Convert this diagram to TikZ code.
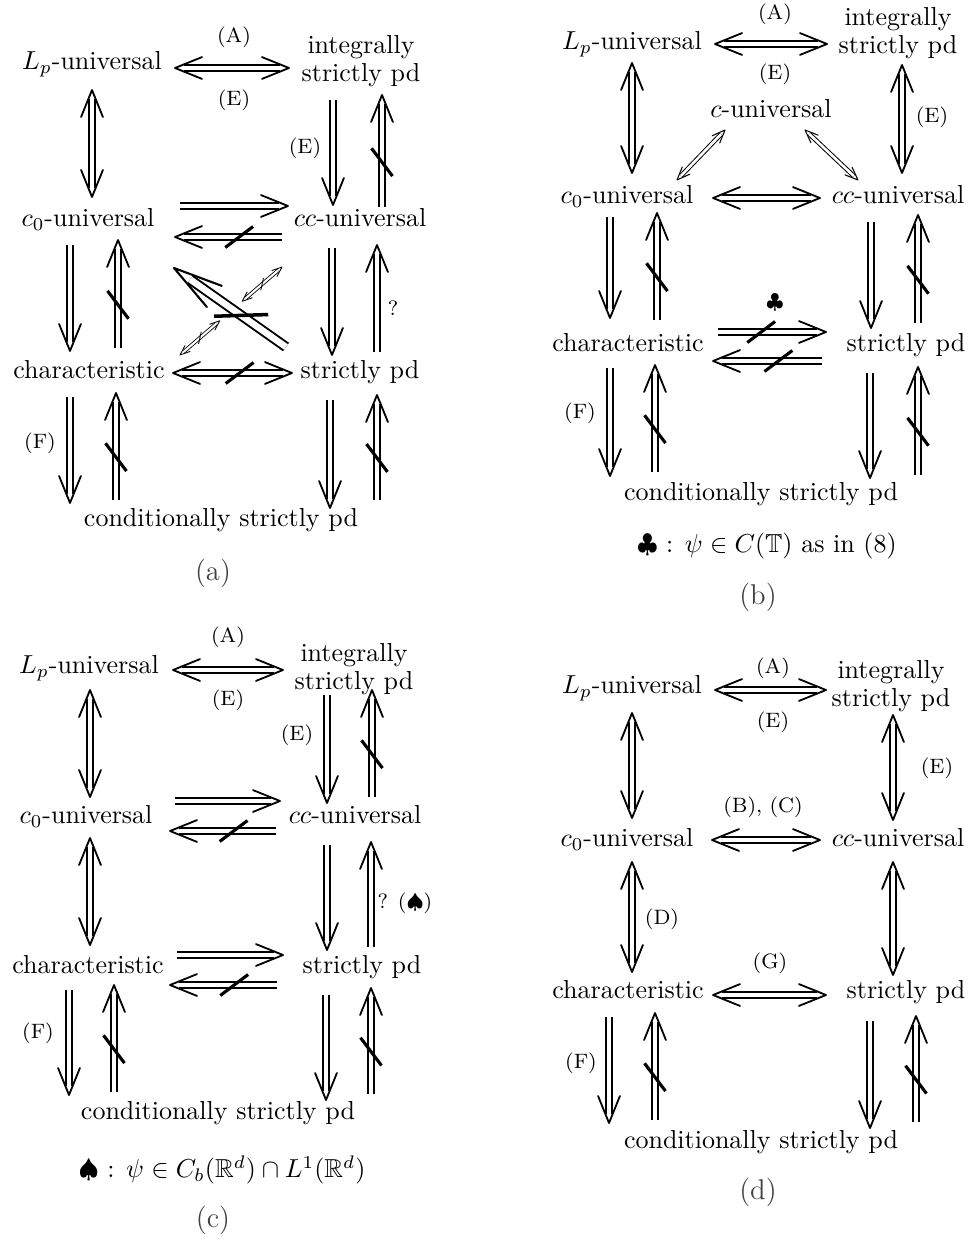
\documentclass[tikz,border=0pt]{standalone}
\usepackage{amssymb}
\usetikzlibrary{calc}
\newcommand\hsh{3.6pt}
\newcommand\slen{6.7pt}
\newcommand\hl{11.2pt}
\newcommand\ha{22}
\newcommand\hd[2]{\draw[headtip] ($(#1)!\hl!\ha:(#2)$) -- (#1) -- ($(#1)!\hl!-\ha:(#2)$);}
\newcommand\xRA[2]{%
  \coordinate (s) at #1; \coordinate (e) at #2;
  \draw[shaft, shorten >=\hsh] (s) -- (e);
  \hd{e}{s}}
\newcommand\xLRA[2]{%
  \coordinate (s) at #1; \coordinate (e) at #2;
  \draw[shaft, shorten >=\hsh, shorten <=\hsh] (s) -- (e);
  \hd{e}{s}\hd{s}{e}}
\newcommand\RA[4]{\xRA{($(#1.center)+(#2)$)}{($(#3.center)+(#4)$)}}
\newcommand\LRA[4]{\xLRA{($(#1.center)+(#2)$)}{($(#3.center)+(#4)$)}}
\newcommand\NOT[1][0.4]{%
  \coordinate (m) at ($(s)!#1!(e)$);
  \draw[slash] ($(m)!\slen!37:(e)$) -- ($(m)!\slen!217:(e)$);}
\tikzset{
  txt/.style={inner sep=0pt, text height=7pt, text depth=2pt},
  twoline/.style={inner sep=0pt, align=center},
  lab/.style={inner sep=0pt, font=\footnotesize},
  capt/.style={inner sep=0pt, font=\fontsize{11}{13}\selectfont, text=black!75},
  notetxt/.style={inner sep=0pt},
  shaft/.style={double, double distance=1.65pt, line width=0.65pt},
  headtip/.style={line width=0.7pt, line cap=round, line join=round},
  slash/.style={line width=1.2pt},
  thinarr/.style={shaft/.style={double, double distance=1pt, line width=0.38pt},
    headtip/.style={line width=0.4pt, line cap=round, line join=round},
    slash/.style={line width=0.38pt}},
  smallarr/.style={shaft/.style={double, double distance=0.8pt, line width=0.32pt},
    headtip/.style={line width=0.32pt, line cap=round, line join=round},
    slash/.style={line width=0.32pt}},
  bigarr/.style={shaft/.style={double, double distance=2.5pt, line width=0.75pt},
    headtip/.style={line width=0.8pt, line cap=round, line join=round},
    slash/.style={line width=1.35pt}},
}
\begin{document}
\begin{tikzpicture}[x=0.38462pt, y=-0.38462pt]
\useasboundingbox (0,0) rectangle (971,1241);
% ================= (a)
\node[txt] (aLp) at (92,63) {$L_p$-universal};
\node[twoline] (aInt) at (361,61) {integrally\\[-1.2pt]strictly pd};
\node[txt] (ac0) at (88,220) {$c_0$-universal};
\node[txt] (acc) at (360,220) {$cc$-universal};
\node[txt] (ach) at (89,372) {characteristic};
\node[txt] (asp) at (360,372) {strictly pd};
\node[txt] (acsp) at (221,520) {conditionally strictly pd};
\node[lab] (aA) at (234,37) {(A)};
\node[lab] (aE1) at (234,100) {(E)};
\node[lab] (aE2) at (305,148) {(E)};
\node[lab] (aQ) at (393,308) {?};
\node[lab] (aF) at (40,443) {(F)};
\node[capt] (acap) at (213,573) {(a)};
\LRA{aLp}{83,5}{aInt}{-72,7}
\LRA{aLp}{0,27}{ac0}{4,-23}
\RA{aInt}{-28,39}{acc}{-27,-15}
\RA{acc}{22,-13}{aInt}{21,34}\NOT
\RA{ac0}{92,-14}{acc}{-72,-14}
\RA{acc}{-78,17}{ac0}{87,17}\NOT
\RA{ac0}{-18,25}{ach}{-19,-21}
\RA{ach}{29,-24}{ac0}{30,20}\NOT
\RA{acc}{-28,28}{asp}{-28,-17}
\RA{asp}{17,-20}{acc}{17,25}
\LRA{ach}{84,1}{asp}{-68,1}\NOT[0.56]
\begin{scope}[bigarr]
\renewcommand\hsh{7.6pt}\renewcommand\slen{10.4pt}
\renewcommand\hl{19.6pt}\renewcommand\ha{14.7}
\RA{asp}{-74,-25}{ac0}{86,48}\NOT
\end{scope}
\begin{scope}[smallarr]
\renewcommand\hsh{1.8pt}\renewcommand\slen{2.4pt}
\renewcommand\hl{4.1pt}\renewcommand\ha{21.5}
\coordinate (p) at ($(ach.center)+(91,-17)$);
\coordinate (q) at ($(acc.center)+(-78,47)$);
\xLRA{(p)}{($(p)!0.39!(q)$)}\NOT[0.5]
\xLRA{($(p)!0.61!(q)$)}{(q)}\NOT[0.5]
\end{scope}
\RA{ach}{-19,25}{acsp}{-151,-17}
\RA{acsp}{-105,-20}{ach}{27,21}\NOT
\RA{asp}{-30,28}{acsp}{109,-12}
\RA{acsp}{156,-20}{asp}{17,23}\NOT
% ================= (b)
\node[txt] (bLp) at (632,43) {$L_p$-universal};
\node[twoline] (bInt) at (898,33) {integrally\\[-1.2pt]strictly pd};
\node[txt] (bc) at (771,111) {$c$-universal};
\node[txt] (bc0) at (627,197) {$c_0$-universal};
\node[txt] (bcc) at (898,197) {$cc$-universal};
\node[txt] (bch) at (628,345) {characteristic};
\node[txt] (bsp) at (906,345) {strictly pd};
\node[txt] (bcsp) at (761,494) {conditionally strictly pd};
\node[lab] (bA) at (775,14) {(A)};
\node[lab] (bE1) at (775,74) {(E)};
\node[lab] (bE2) at (932,117) {(E)};
\node[lab] (bclub) at (775,303) {$\clubsuit$};
\node[lab] (bF) at (580,413) {(F)};
\node[notetxt] (bnote) at (767,546) {$\clubsuit$ : $\psi\in C(\mathbb{T})$ as in (8)};
\node[capt] (bcap) at (758,597) {(b)};
\LRA{bLp}{83,1}{bInt}{-71,11}
\LRA{bLp}{0,20}{bc0}{5,-24}
\LRA{bInt}{4,32}{bcc}{4,-24}
\begin{scope}[thinarr]
\renewcommand\hsh{2.2pt}
\renewcommand\hl{5.4pt}\renewcommand\ha{21.8}
\LRA{bc}{-46,19}{bc0}{50,-17}
\LRA{bc}{34,19}{bcc}{-40,-17}
\end{scope}
\LRA{bc0}{86,1}{bcc}{-78,1}
\RA{bc0}{-17,20}{bch}{-18,-27}
\RA{bch}{29,-25}{bc0}{30,16}\NOT
\RA{bcc}{-27,25}{bsp}{-35,-17}
\RA{bsp}{12,-22}{bcc}{20,18}\NOT
\RA{bch}{90,-13}{bsp}{-80,-13}\NOT
\RA{bsp}{-84,16}{bch}{85,16}\NOT
\RA{bch}{-18,23}{bcsp}{-151,-18}
\RA{bcsp}{-106,-22}{bch}{27,20}\NOT
\RA{bsp}{-36,28}{bcsp}{109,-16}
\RA{bcsp}{157,-19}{bsp}{12,22}\NOT
% ================= (c)
\node[txt] (cLp) at (89,667) {$L_p$-universal};
\node[twoline] (cInt) at (354,669) {integrally\\[-1.2pt]strictly pd};
\node[txt] (cc0) at (86,817) {$c_0$-universal};
\node[txt] (ccc) at (355,817) {$cc$-universal};
\node[txt] (cch) at (88,967) {characteristic};
\node[txt] (csp) at (362,967) {strictly pd};
\node[txt] (ccsp) at (218,1113) {conditionally strictly pd};
\node[lab] (cA) at (228,637) {(A)};
\node[lab] (cE1) at (228,700) {(E)};
\node[lab] (cE2) at (297,735) {(E)};
\node[lab] (cQ) at (405,903) {? ($\spadesuit$)};
\node[lab] (cF) at (38,1033) {(F)};
\node[notetxt] (cnote) at (222,1170) {$\spadesuit$ : $\psi\in C_b(\mathbb{R}^d)\cap L^1(\mathbb{R}^d)$};
\node[capt] (ccap) at (213,1220) {(c)};
\LRA{cLp}{84,3}{cInt}{-71,1}
\LRA{cLp}{1,23}{cc0}{4,-20}
\RA{cInt}{-27,26}{ccc}{-28,-14}
\RA{ccc}{17,-20}{cInt}{18,21}\NOT
\RA{cc0}{89,-16}{ccc}{-75,-16}
\RA{ccc}{-79,14}{cc0}{84,14}\NOT
\LRA{cc0}{4,21}{cch}{2,-22}
\RA{ccc}{-28,28}{csp}{-35,-17}
\RA{csp}{9,-20}{ccc}{16,25}
\RA{cch}{89,-12}{csp}{-79,-12}
\RA{csp}{-85,18}{cch}{82,18}\NOT
\RA{cch}{-19,23}{ccsp}{-149,-18}
\RA{ccsp}{-104,-21}{cch}{26,18}\NOT
\RA{csp}{-36,28}{ccsp}{108,-13}
\RA{ccsp}{153,-19}{csp}{9,21}\NOT
% ================= (d)
\node[txt] (dLp) at (632,687) {$L_p$-universal};
\node[twoline] (dInt) at (891,686) {integrally\\[-1.2pt]strictly pd};
\node[txt] (dc0) at (627,840) {$c_0$-universal};
\node[txt] (dcc) at (898,840) {$cc$-universal};
\node[txt] (dch) at (628,992) {characteristic};
\node[txt] (dsp) at (906,992) {strictly pd};
\node[txt] (dcsp) at (761,1142) {conditionally strictly pd};
\node[lab] (dA) at (773,668) {(A)};
\node[lab] (dE1) at (773,722) {(E)};
\node[lab] (dE2) at (937,768) {(E)};
\node[lab] (dBC) at (763,807) {(B), (C)};
\node[lab] (dD) at (662,919) {(D)};
\node[lab] (dG) at (770,963) {(G)};
\node[lab] (dF) at (581,1063) {(F)};
\node[capt] (dcap) at (758,1192) {(d)};
\LRA{dLp}{83,3}{dInt}{-65,4}
\LRA{dLp}{0,26}{dc0}{5,-22}
\LRA{dInt}{2,29}{dcc}{-5,-20}
\LRA{dc0}{85,0}{dcc}{-78,0}
\LRA{dc0}{5,22}{dch}{4,-20}
\LRA{dcc}{-5,22}{dsp}{-13,-17}
\LRA{dch}{85,3}{dsp}{-80,3}
\RA{dch}{-19,25}{dcsp}{-152,-19}
\RA{dcsp}{-106,-22}{dch}{27,21}\NOT
\RA{dsp}{-36,29}{dcsp}{109,-14}
\RA{dcsp}{155,-20}{dsp}{10,24}\NOT
\end{tikzpicture}
\end{document}
